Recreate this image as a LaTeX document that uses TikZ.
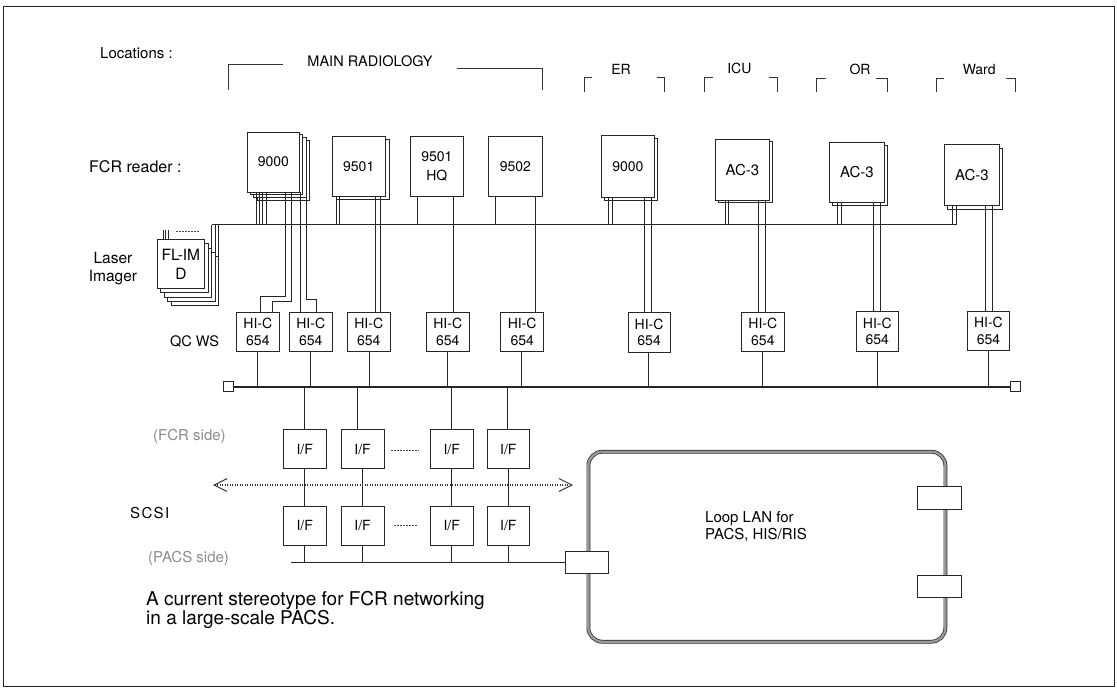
\documentclass[tikz,border=0pt]{standalone}
\usepackage{fontspec}
\setmainfont{TeX Gyre Heros}
\usetikzlibrary{arrows.meta}
\newcommand\mybx[7][]{\node[bx,#1,minimum width={(#4)-(#2)},minimum height={(#5)-(#3)}] (#6) at (#2,#3) {#7};}
\newcommand\shbx[6]{\draw[ln,fill=white] ({#1+#5},{#2+#6}) rectangle ({#3+#5},{#4+#6});}
\newcommand\cvl[3]{\draw[ln] (#2 -| #1,0) -- (#3 -| #1,0);}
\begin{document}
\begin{tikzpicture}[x=1pt,y=-1pt,
  ln/.style={line width=0.75pt,draw=black!85},
  bx/.style={ln,fill=white,inner sep=0pt,anchor=north west,align=center,font=\fontsize{14}{16.5}\selectfont},
  lbl/.style={inner sep=0pt,font=\fontsize{15}{18}\selectfont},
  side/.style={lbl,text=black!45},
  brk/.style={line width=0.7pt,draw=black!80},
  term/.style={ln,fill=white,minimum width=10pt,minimum height=10pt,inner sep=0pt},
  scsi/.style={line width=2.4pt,dash pattern=on 1.1pt off 1.4pt,draw=black!80},
  loopln/.style={line width=0.7pt,draw=black!85,double=black!40,double distance=2.4pt,rounded corners=14pt},
  dotsln/.style={line width=0.6pt,draw=black!70,dash pattern=on 1.5pt off 1.5pt},
  acfont/.style={font=\fontsize{15}{18}\selectfont},
]
\useasboundingbox (0,0) rectangle (1117,689);
\draw[ln] (3.5,6) rectangle (1114.5,686);

% ---------- location labels ----------
\node[lbl,anchor=west] (loc) at (100,53) {Locations :};
\node[lbl,font=\fontsize{14.5}{17}\selectfont] (mr) at (370,61) {MAIN RADIOLOGY};
\draw[brk] (228,90) -- (228,64) -- (283,64);
\draw[brk] (457,68) -- (542,68) -- (542,90);
\node[lbl,font=\fontsize{14}{17}\selectfont] (er) at (621,69) {ER};
\draw[brk] (584,92) -- (584,77) -- (592,77);
\draw[brk] (656.6,77) -- (664,77) -- (664,92);
\node[lbl,font=\fontsize{14}{17}\selectfont] (icu) at (739.4,68) {ICU};
\draw[brk] (704,92) -- (704,77) -- (712.7,77);
\draw[brk] (769,77) -- (777.4,77) -- (777.4,92);
\node[lbl,font=\fontsize{14}{17}\selectfont] (or) at (860,69) {OR};
\draw[brk] (816.5,92) -- (816.5,78) -- (826.4,78);
\draw[brk] (876,78) -- (887,78) -- (887,92);
\node[lbl,font=\fontsize{14}{17}\selectfont] (ward) at (979.2,69) {Ward};
\draw[brk] (936.5,92) -- (936.5,78) -- (944.4,78);
\draw[brk] (1006,78) -- (1015.4,78) -- (1015.4,92);

% ---------- FCR readers ----------
\node[lbl,anchor=west,font=\fontsize{16}{18}\selectfont] (fcr) at (89,167) {FCR reader :};
\foreach \k in {3,2,1} {\shbx{246.7}{131.7}{299.3}{191.7}{3.5*\k}{2.8*\k}}
\mybx{246.7}{131.7}{299.3}{191.7}{r1}{9000}
\shbx{331.7}{136}{385}{196}{4.3}{3.3}
\mybx{331.7}{136}{385}{196}{r2}{9501}
\mybx[font=\fontsize{14}{18.5}\selectfont]{410}{136}{463}{196}{r3}{9501\\HQ}
\mybx{488.3}{136}{541.7}{196}{r4}{9502}
\shbx{601}{135}{654}{197}{3.5}{3}
\mybx{601}{135}{654}{197}{r5}{9000}
\shbx{715}{139}{769}{200}{3.2}{2.7}
\mybx[acfont]{715}{139}{769}{200}{r6}{AC-3}
\shbx{829}{141.7}{884}{201.7}{3.5}{3.3}
\mybx[acfont]{829}{141.7}{884}{201.7}{r7}{AC-3}
\shbx{944}{144.3}{999}{205}{3.6}{4}
\mybx[acfont]{944}{144.3}{999}{205}{r8}{AC-3}

% ---------- laser imager ----------
\node[lbl,align=center,font=\fontsize{15.5}{17.5}\selectfont] (li) at (113,268.5) {Laser\\Imager};
\foreach \k in {4,3,2,1} {\shbx{156.7}{239.3}{204.3}{288.3}{3.6*\k}{4.3*\k}}
\mybx[font=\fontsize{15.5}{18.5}\selectfont]{156.7}{239.3}{204.3}{288.3}{fl}{FL-IM\\D}
\coordinate (lb) at (211.5,224.7);
\draw[ln] (lb) -- (lb -| 956,0);
\draw[ln] (lb -| 211.5,0) -- (211.5,247.9);
\draw[ln] (lb -| 215.1,0) -- (215.1,252.2);
\draw[ln] (lb -| 218.7,0) -- (218.7,256.5);
\foreach \x in {163,165.5,168} {\draw[ln] (\x,230) -- (fl.north -| \x,0);}
\draw[dotsln] (176,231) -- (200,231);

% reader legs to the imager line
\foreach \x in {256,259.3,262.7,266.7} {\cvl{\x}{r1.south}{lb}}
\foreach \x in {336,339.3} {\cvl{\x}{r2.south}{lb}}
\cvl{417.3}{r3.south}{lb}
\cvl{495.7}{r4.south}{lb}
\foreach \x in {608.7,612.6} {\cvl{\x}{r5.south}{lb}}
\foreach \x in {725.2,728.7} {\cvl{\x}{r6.south}{lb}}
\foreach \x in {837.8,841.3} {\cvl{\x}{r7.south}{lb}}
\foreach \x in {952.5,956} {\cvl{\x}{r8.south}{lb}}

% ---------- QC workstations ----------
\node[lbl,anchor=west,font=\fontsize{14.5}{17}\selectfont] (qc) at (170,341.7) {QC WS};
\mybx{235.7}{311.7}{279.3}{351}{h1}{HI-C\\654}
\mybx{289}{311.7}{331.7}{351}{h2}{HI-C\\654}
\mybx{346.7}{311.7}{390}{351}{h3}{HI-C\\654}
\mybx{425.7}{311.7}{469}{351}{h4}{HI-C\\654}
\mybx{500.3}{311.7}{543.3}{351}{h5}{HI-C\\654}
\mybx{627.5}{312.3}{670}{351.7}{h6}{HI-C\\654}
\mybx{741.2}{312}{783.8}{351.3}{h7}{HI-C\\654}
\mybx{855.6}{311.3}{898.2}{350.7}{h8}{HI-C\\654}
\mybx{966.7}{311}{1009.4}{350}{h9}{HI-C\\654}

% reader to QC WS
\draw[ln] (r1.south -| 285,0) -- (285,296.7) -- (260,296.7) -- (h1.north -| 260,0);
\draw[ln] (r1.south -| 291.7,0) -- (291.7,301.7) -- (272.7,301.7) -- (h1.north -| 272.7,0);
\cvl{300}{r1.south}{h2.north}
\draw[ln] (r1.south -| 306.3,0) -- (306.3,299) -- (316,299) -- (h2.north -| 316,0);
\foreach \x in {375,380} {\cvl{\x}{r2.south}{h3.north}}
\cvl{453.3}{r3.south}{h4.north}
\cvl{535}{r4.south}{h5.north}
\foreach \x in {644.2,651.6} {\cvl{\x}{r5.south}{h6.north}}
\foreach \x in {757.9,765.3} {\cvl{\x}{r6.south}{h7.north}}
\foreach \x in {873.3,880.8} {\cvl{\x}{r7.south}{h8.north}}
\foreach \x in {985.2,992.3} {\cvl{\x}{r8.south}{h9.north}}

% ---------- main bus ----------
\coordinate (mb) at (0,386.7);
\node[term] (tL) at (228,386.7) {};
\node[term] (tR) at (1015.3,386.7) {};
\draw[line width=2pt,draw=black!85] (tL.east) -- (tR.west);
\cvl{257.7}{h1.south}{mb}
\cvl{310.7}{h2.south}{mb}
\cvl{369}{h3.south}{mb}
\cvl{447.7}{h4.south}{mb}
\cvl{521.7}{h5.south}{mb}
\cvl{648.5}{h6.south}{mb}
\cvl{762.5}{h7.south}{mb}
\cvl{877.2}{h8.south}{mb}
\cvl{988.8}{h9.south}{mb}

% ---------- interfaces ----------
\node[side,anchor=west] (fs) at (153,436.7) {(FCR side)};
\node[lbl,anchor=west] (sc) at (130,513) {\addfontfeature{LetterSpace=9}SCSI};
\node[side,anchor=west] (ps) at (148,558) {(PACS side)};
\mybx{282.7}{429.3}{326}{468.3}{f1}{I/F}
\mybx{340.7}{429.3}{383.7}{468.3}{f2}{I/F}
\mybx{430}{429.3}{472.7}{468.3}{f3}{I/F}
\mybx{486.7}{429.3}{529.3}{468.3}{f4}{I/F}
\mybx{282.7}{506}{326}{545}{g1}{I/F}
\mybx{340.7}{506}{383.7}{545}{g2}{I/F}
\mybx{430}{506}{472.7}{545}{g3}{I/F}
\mybx{486.7}{506}{529.3}{545}{g4}{I/F}
\draw[dotsln] (391,450) -- (419,450);
\draw[dotsln] (394,525) -- (417,525);
\cvl{304.3}{mb}{f1.north}
\cvl{357.3}{mb}{f2.north}
\cvl{451}{mb}{f3.north}
\cvl{507.3}{mb}{f4.north}
\coordinate (pb) at (291,562.7);
\foreach \x/\a/\b in {304.3/f1/g1,362.3/f2/g2,451.7/f3/g3,508.3/f4/g4} {\cvl{\x}{\a.south}{\b.north}}

% SCSI arrow
\coordinate (sa) at (213,485);
\coordinate (sb) at (573,485);
\draw[scsi,{Straight Barb[length=13pt,width=13pt,line width=1pt]}-{Straight Barb[length=13pt,width=13pt,line width=1pt]}] (sa) -- (sb);

% ---------- loop LAN ----------
\draw[loopln] (588.4,451.7) rectangle (945.4,641.7);
\node[term,minimum width=43.4pt,minimum height=21.6pt] (sqL) at (587,562.5) {};
\node[term,minimum width=43.7pt,minimum height=22.6pt] (sqR1) at (939.5,498) {};
\node[term,minimum width=43.7pt,minimum height=22pt] (sqR2) at (939.5,586.3) {};
\draw[ln] (pb) -- (pb -| sqL.west);
\foreach \x/\b in {304.3/g1,362.3/g2,451.7/g3,508.3/g4} {\cvl{\x}{\b.south}{pb}}
\node[lbl,anchor=west,align=left,font=\fontsize{15}{17}\selectfont] (lt) at (705,527) {Loop LAN for\\PACS, HIS/RIS};

% ---------- caption ----------
\node[lbl,anchor=west,align=left,font=\fontsize{19}{18.5}\selectfont] (cap) at (146,610) {A current stereotype for FCR networking\\in a large-scale PACS.};
\end{tikzpicture}
\end{document}
